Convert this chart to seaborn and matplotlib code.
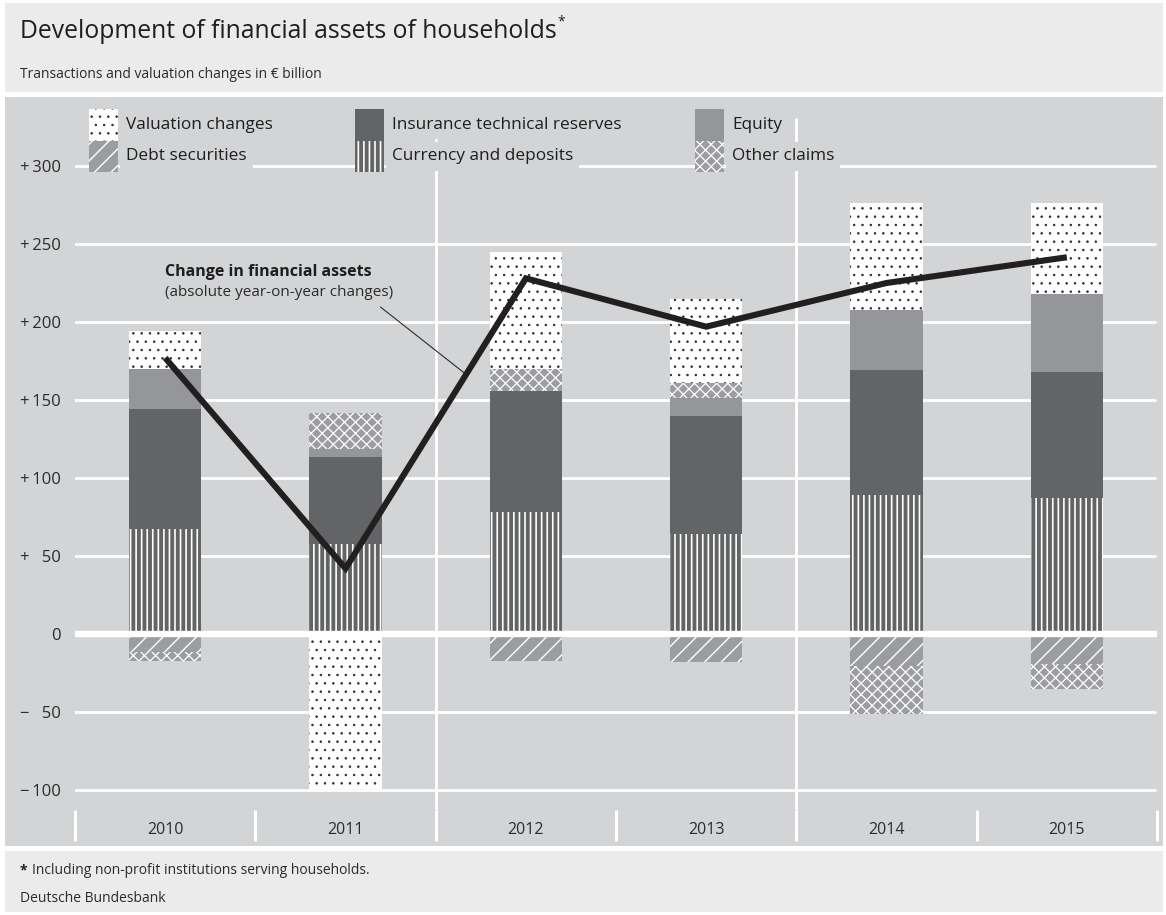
import numpy as np
import matplotlib
matplotlib.use("Agg")
import matplotlib.pyplot as plt
from matplotlib.patches import Rectangle
import seaborn as sns

# ---- data (EUR billion) ----
years = ["2010", "2011", "2012", "2013", "2014", "2015"]
currency_deposits = [67, 57.5, 78, 64, 89, 87]
insurance_reserves = [77.5, 56, 78, 76, 80, 81]
equity = [25.5, 5, 0, 11.5, 39, 50]
debt_securities = [-11.5, 0, -17, -18, -20.5, -19]
other_claims = [-5.5, 23, 14, 9.5, -30.5, -16]
valuation_changes = [24, -99.5, 75, 54, 68, 58.5]
change_financial_assets = [177, 42, 228, 197, 225, 241.5]

y_ticks = [300, 250, 200, 150, 100, 50, 0, -50, -100]
y_tick_labels = ["+\u2009300", "+\u2009250", "+\u2009200", "+\u2009150", "+\u2009100",
                 "+\u2009\u200750", "0", "\u2212\u2009\u200750", "\u2212\u2009100"]

# ---- styling ----
sns.set_style("white")
plt.rcParams["font.family"] = ["Open Sans", "DejaVu Sans"]

BG_PLOT = "#d3d4d6"
BG_PANEL = "#ebebec"
TXT = "#2b2b2b"

W, H = 1166, 915
fig = plt.figure(figsize=(W / 100, H / 100), dpi=100, facecolor="white")


def fx(px):
    return px / W


def fy(py):
    return 1 - py / H


# background panels
for (x0, y0, x1, y1, c) in [(5, 3, 1163, 92, BG_PANEL),
                             (5, 97, 1163, 846, BG_PLOT),
                             (5, 851, 1163, 912, BG_PANEL)]:
    fig.patches.append(Rectangle((fx(x0), fy(y1)), fx(x1) - fx(x0), fy(y0) - fy(y1),
                                 transform=fig.transFigure, facecolor=c,
                                 edgecolor="none", zorder=-10))

ax = fig.add_axes([fx(75), fy(810), fx(1157) - fx(75), fy(100) - fy(810)])
ax.patch.set_visible(False)

# series styles: facecolor, hatch colour, hatch pattern, hatch width
styles = {
    "Valuation changes": ("white", "#2a2a2a", "..", 0.55),
    "Debt securities": ("#9c9da0", "white", "//", 1.0),
    "Insurance technical reserves": ("#636466", "#636466", None, 0.0),
    "Currency and deposits": ("#636466", "white", "|||", 1.2),
    "Equity": ("#959699", "#959699", None, 0.0),
    "Other claims": ("#9c9da0", "white", "xxx", 0.9),
}

stack = [("Currency and deposits", currency_deposits),
         ("Insurance technical reserves", insurance_reserves),
         ("Equity", equity),
         ("Debt securities", debt_securities),
         ("Other claims", other_claims),
         ("Valuation changes", valuation_changes)]

pos_base = np.zeros(len(years))
neg_base = np.zeros(len(years))
for name, vals in stack:
    vals = np.asarray(vals, dtype=float)
    bottom = np.where(vals >= 0, pos_base, neg_base)
    fc, hc, hatch, hlw = styles[name]
    plt.rcParams["hatch.linewidth"] = hlw if hlw else 1.0
    n_before = len(ax.patches)
    sns.barplot(x=years, y=vals, bottom=bottom, width=0.4, saturation=1,
                color=fc, facecolor=fc, edgecolor=hc, linewidth=0,
                hatch=hatch, errorbar=None, ax=ax, zorder=2)
    for p in ax.patches[n_before:]:
        if hasattr(p, "set_hatch_linewidth") and hlw:
            p.set_hatch_linewidth(hlw)
    pos_base = pos_base + np.where(vals > 0, vals, 0)
    neg_base = neg_base + np.where(vals < 0, vals, 0)

# total change line
sns.lineplot(x=np.arange(len(years)), y=change_financial_assets, color="#231f20",
             linewidth=4.4, ax=ax, zorder=5, solid_capstyle="butt",
             solid_joinstyle="miter")

# grid
YMIN, YMAX = -112.8, 342.3
for t in y_ticks:
    if t == 0:
        ax.axhline(0, color="white", lw=4.6, zorder=3)
    else:
        ax.axhline(t, xmax=0.998, color="white", lw=2.0, zorder=0.5)
ax.vlines([1.5, 3.5], YMIN, 331, color="white", lw=2.0, zorder=0.5)

ax.set_xlim(-0.5, 5.5)
ax.set_ylim(YMIN, YMAX)
for s in ax.spines.values():
    s.set_visible(False)
ax.grid(False)
ax.set_xlabel("")
ax.set_ylabel("")

ax.set_xticks(range(len(years)))
ax.set_xticklabels(years)
ax.set_xticks(np.arange(-0.5, len(years), 1), minor=True)
ax.tick_params(axis="x", which="major", bottom=True, length=0, pad=9, labelsize=11.5,
               labelcolor=TXT)
ax.tick_params(axis="x", which="minor", bottom=True, length=22.5, width=2.2,
               color="white", direction="out")
ax.set_yticks(y_ticks)
ax.set_yticklabels(y_tick_labels)
ax.tick_params(axis="y", length=0, pad=10, labelsize=12, labelcolor=TXT)

# annotation for the line
ax.text(0.0, 232, "Change in financial assets", fontsize=11.5, fontweight="bold",
        color="#1e1e1e", va="center", ha="left")
ax.text(0.0, 219, "(absolute year-on-year changes)", fontsize=11,
        color="#2b2b2b", va="center", ha="left")
ax.plot([1.194, 1.669], [209.6, 166.4], color="#2b2b2b", lw=0.8, zorder=4)

# legend (two rows x three columns)
legend_rows = [["Valuation changes", "Insurance technical reserves", "Equity"],
               ["Debt securities", "Currency and deposits", "Other claims"]]
col_x = [89, 355, 695]
row_y = [(109, 141), (141, 172)]
for r, row in enumerate(legend_rows):
    for c, name in enumerate(row):
        fc, hc, hatch, hlw = styles[name]
        plt.rcParams["hatch.linewidth"] = hlw if hlw else 1.0
        y0, y1 = row_y[r]
        rect = Rectangle((fx(col_x[c]), fy(y1)), fx(29), fy(y0) - fy(y1),
                         transform=fig.transFigure, facecolor=fc, edgecolor=hc,
                         linewidth=0, hatch=hatch, zorder=2)
        if hasattr(rect, "set_hatch_linewidth") and hlw:
            rect.set_hatch_linewidth(hlw)
        fig.patches.append(rect)
        fig.text(fx(col_x[c] + 37), fy((y0 + y1) / 2), name, fontsize=12.4,
                 color="#1e1e1e", va="center", ha="left", zorder=3,
                 bbox=dict(boxstyle="square,pad=0.35", fc=BG_PLOT, ec="none"))

# title, subtitle and footer
renderer = fig.canvas.get_renderer()
title = fig.text(fx(20), fy(32), "Development of financial assets of households",
                 fontsize=17.8, color="#1e1e1e", va="center", ha="left")
bb = title.get_window_extent(renderer)
fig.text(bb.x1 / W + fx(1), fy(22), "*", fontsize=10, color="#1e1e1e",
         va="center", ha="left")
fig.text(fx(20), fy(74), "Transactions and valuation changes in \u20ac billion",
         fontsize=10, color=TXT, va="center", ha="left")

star = fig.text(fx(20), fy(870), "*", fontsize=10, fontweight="bold", color="#1e1e1e",
                va="center", ha="left")
sb = star.get_window_extent(renderer)
fig.text(sb.x1 / W + fx(4), fy(870), "Including non-profit institutions serving households.",
         fontsize=10, color=TXT, va="center", ha="left")
fig.text(fx(20), fy(898), "Deutsche Bundesbank", fontsize=10, color=TXT,
         va="center", ha="left")

fig.savefig("out.png", dpi=100, facecolor="white")
